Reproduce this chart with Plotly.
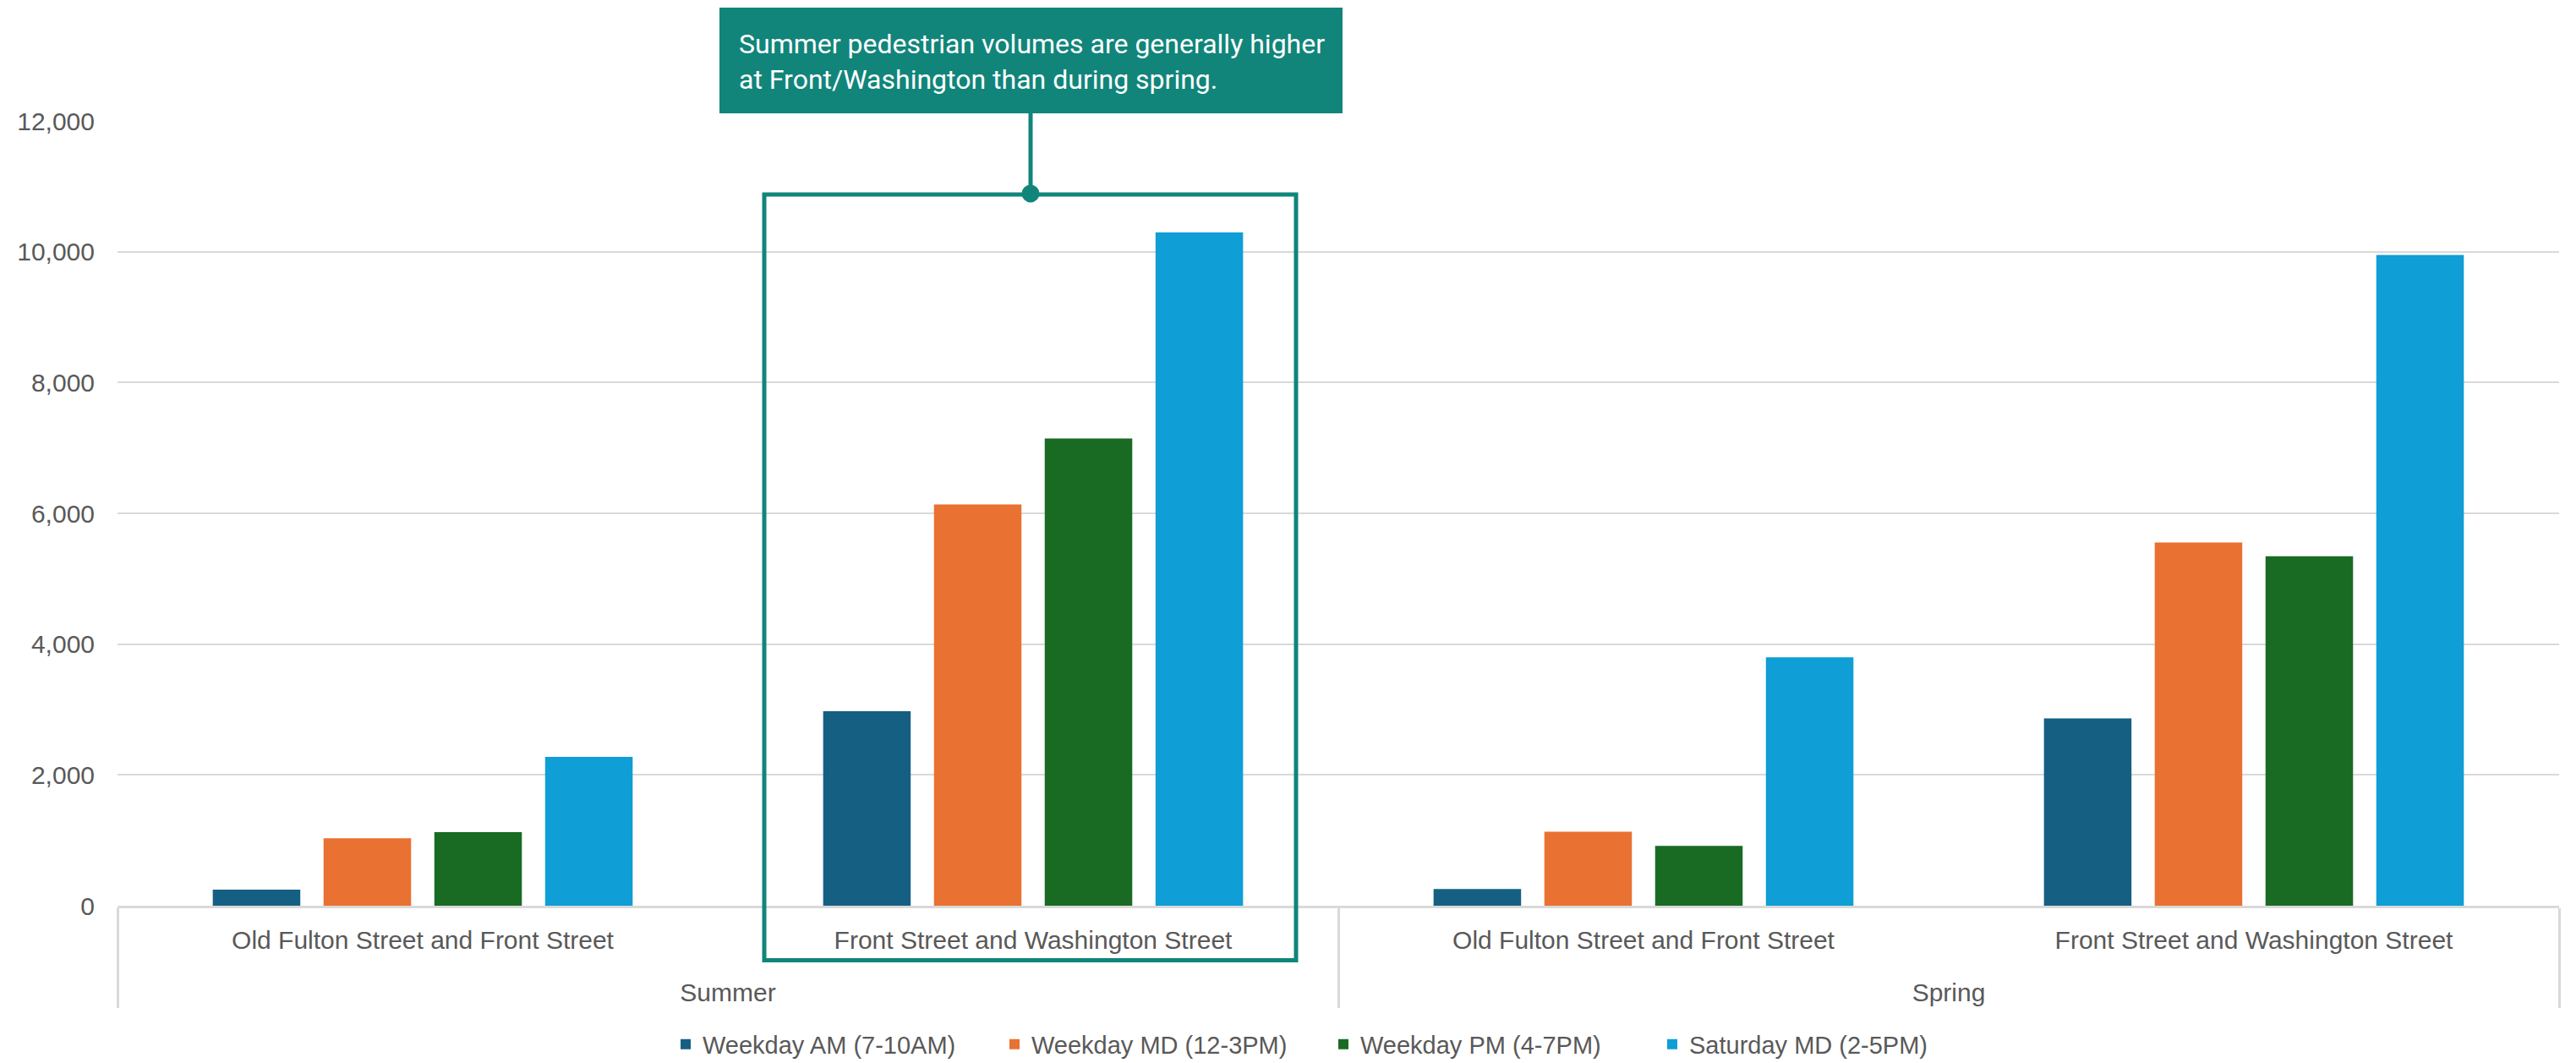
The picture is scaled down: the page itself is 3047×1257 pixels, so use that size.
import plotly.graph_objects as go

# data
seasons = ["Summer", "Summer", "Spring", "Spring"]
locations = ["Old Fulton Street and Front Street", "Front Street and Washington Street",
             "Old Fulton Street and Front Street", "Front Street and Washington Street"]
weekday_am = [245, 2975, 255, 2865]
weekday_md = [1030, 6135, 1130, 5555]
weekday_pm = [1125, 7145, 915, 5345]
saturday_md = [2275, 10295, 3800, 9950]

series = [
    ("Weekday AM (7-10AM)", weekday_am, "#156082"),
    ("Weekday MD (12-3PM)", weekday_md, "#E97132"),
    ("Weekday PM (4-7PM)", weekday_pm, "#196B24"),
    ("Saturday MD (2-5PM)", saturday_md, "#0F9ED5"),
]

TEAL = "#11857A"
GREY = "#595959"
GRID = "#D9D9D9"

# the page body has an 8px margin, so the figure starts at (8, 8) in the window
OFF = 8
W, H = 3047 - OFF, 1257 - OFF
L, R, T, B = 139 - OFF, 20, 143 - OFF, 185.5
pw, ph = W - L - R, H - T - B


def px_x(x):
    # window pixel -> paper fraction
    return (x - OFF - L) / pw


def px_y(y):
    return (H - B - (y - OFF)) / ph


# outer level labels get a blank line on top so they sit lower, like Excel
outer = ["<br>" + s for s in seasons]

fig = go.Figure()
for name, vals, col in series:
    fig.add_trace(go.Bar(x=[outer, locations], y=vals, name=name,
                         marker=dict(color=col, line=dict(width=0))))

fig.update_layout(
    width=W, height=H,
    margin=dict(l=L, r=R, t=T, b=B, autoexpand=False),
    paper_bgcolor="white", plot_bgcolor="white",
    barmode="group", bargap=0.274, bargroupgap=0.21,
    font=dict(family="Liberation Sans, Arial", size=30, color=GREY),
    showlegend=True,
    legend=dict(orientation="h", x=0.5 - 14 / pw, xanchor="center",
                yref="container", y=1 - (1235 - OFF) / H, yanchor="middle",
                entrywidth=344, font=dict(size=29, color=GREY), traceorder="normal"),
)
fig.update_yaxes(range=[0, 12000], dtick=2000, tickformat=",", showgrid=True,
                 gridcolor=GRID, gridwidth=2, zeroline=False, showline=False,
                 automargin=False, ticklabelstandoff=26,
                 tickfont=dict(size=30, color=GREY))
fig.update_xaxes(showline=True, linecolor=GRID, linewidth=3, showgrid=False,
                 automargin=False, ticklabelstandoff=12,
                 showdividers=True, dividercolor=GRID, dividerwidth=3,
                 tickfont=dict(size=30, color=GREY))

# highlight frame around Summer / Front & Washington
fig.add_shape(type="rect", xref="paper", yref="paper",
              x0=px_x(904), x1=px_x(1533), y0=px_y(1136), y1=px_y(230),
              line=dict(color=TEAL, width=5), fillcolor="rgba(0,0,0,0)")
# callout box
fig.add_shape(type="rect", xref="paper", yref="paper",
              x0=px_x(851), x1=px_x(1588), y0=px_y(134), y1=px_y(9),
              line=dict(width=0), fillcolor=TEAL)
# connector and dot
cx = px_x(1219)
fig.add_shape(type="line", xref="paper", yref="paper",
              x0=cx, x1=cx, y0=px_y(134), y1=px_y(229),
              line=dict(color=TEAL, width=5))
fig.add_shape(type="circle", xref="paper", yref="paper",
              x0=px_x(1208.5), x1=px_x(1229.5), y0=px_y(239.5), y1=px_y(218.5),
              line=dict(width=0), fillcolor=TEAL)
fig.add_annotation(xref="paper", yref="paper", x=px_x(872), y=px_y(73),
                   xanchor="left", yanchor="middle", align="left", showarrow=False,
                   text="Summer pedestrian volumes are generally higher<br>at Front/Washington than during spring.",
                   font=dict(family="Roboto", size=32, color="white"))

fig.write_html("out.html")
